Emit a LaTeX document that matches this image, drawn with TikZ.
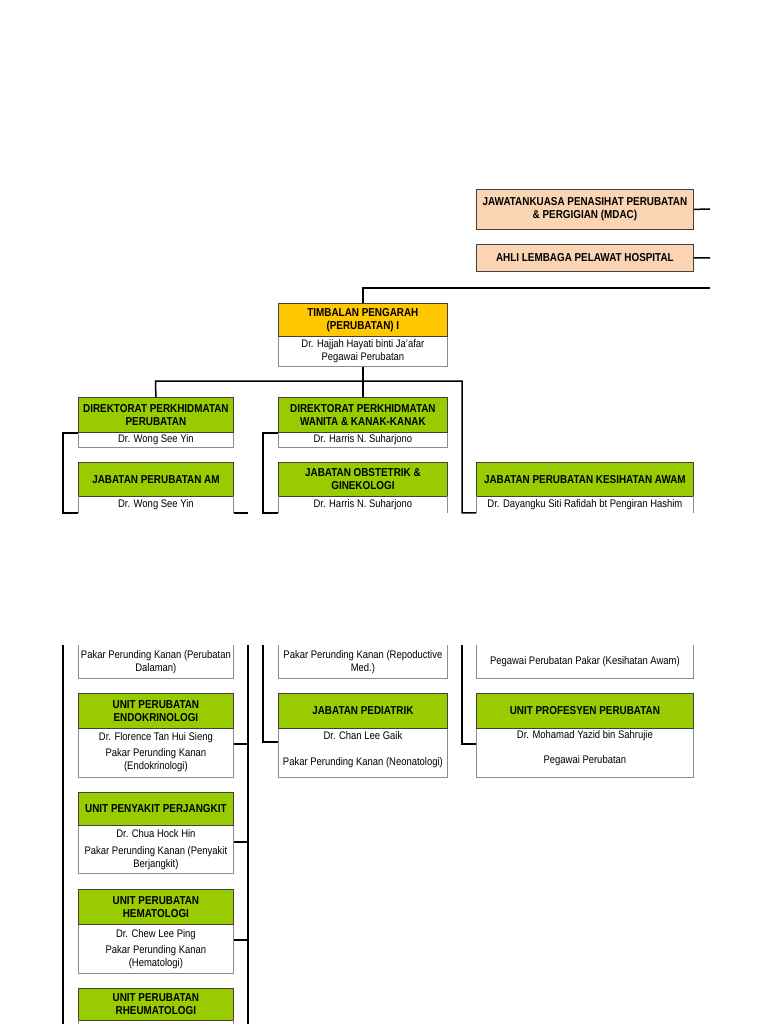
\documentclass[tikz,border=0pt]{standalone}
\usepackage{fontspec}
\setmainfont{Liberation Sans}[FakeStretch=0.86]
\usepackage{tikz}
\usetikzlibrary{calc}
\tikzset{
  head/.style={draw=black!75, line width=0.8pt, inner sep=0pt, anchor=north west, align=center, font=\fontsize{11.5}{13}\selectfont\bfseries},
  body/.style={draw=boxgray, fill=white, line width=0.8pt, inner sep=0pt, anchor=north west, align=center, font=\fontsize{11}{13}\selectfont},
  cut/.style={body, draw=none},
  side/.style={draw=boxgray, line width=0.8pt},
  link/.style={line width=1.5pt, black},
  colL/.style={minimum width=155pt},
  colM/.style={minimum width=169pt},
  colR/.style={minimum width=217pt},
}
\definecolor{peach}{HTML}{FBD4B4}
\definecolor{gold}{HTML}{FFC800}
\definecolor{lime}{HTML}{99CC00}
\definecolor{boxgray}{HTML}{8C8C8C}

\begin{document}
\begin{tikzpicture}[x=1pt, y=-1pt]
      \useasboundingbox[fill=white] (0,0) rectangle (768,1024);

      \node[head, fill=peach, colR, minimum height=40pt] at (476,189) (mdac) {JAWATANKUASA PENASIHAT PERUBATAN\\\& PERGIGIAN (MDAC)};
      \node[head, fill=peach, colR, minimum height=27pt] at (476,244) (ahli) {AHLI LEMBAGA PELAWAT HOSPITAL};

      \node[body, colM, minimum height=30pt] at (278,336) (timbB) {Dr. Hajjah Hayati binti Ja'afar\\Pegawai Perubatan};
      \node[head, fill=gold, colM, minimum height=33pt] at (278,303) (timbH) {TIMBALAN PENGARAH\\(PERUBATAN) I};

      \node[body, colL, minimum height=15pt] at (78,432) (dirperB) {Dr. Wong See Yin};
      \node[head, fill=lime, colL, minimum height=35pt] at (78,397) (dirperH) {DIREKTORAT PERKHIDMATAN\\PERUBATAN};
      \node[body, colM, minimum height=15pt] at (278,432) (dirwanB) {Dr. Harris N. Suharjono};
      \node[head, fill=lime, colM, minimum height=35pt] at (278,397) (dirwanH) {DIREKTORAT PERKHIDMATAN\\WANITA \& KANAK-KANAK};

      \node[cut, colL, minimum height=16pt] at (78,496) (jpamB) {Dr. Wong See Yin};
      \node[head, fill=lime, colL, minimum height=34pt] at (78,462) (jpamH) {JABATAN PERUBATAN AM};
      \node[cut, colM, minimum height=16pt] at (278,496) (jobsB) {Dr. Harris N. Suharjono};
      \node[head, fill=lime, colM, minimum height=34pt] at (278,462) (jobsH) {JABATAN OBSTETRIK \&\\GINEKOLOGI};
      \node[cut, colR, minimum height=16pt] at (476,496) (jkawB) {Dr. Dayangku Siti Rafidah bt Pengiran Hashim};
      \node[head, fill=lime, colR, minimum height=34pt] at (476,462) (jkawH) {JABATAN PERUBATAN KESIHATAN AWAM};

      \draw[side] (jpamB.north west) -- (jpamB.south west) (jpamB.north east) -- (jpamB.south east);
      \draw[side] (jobsB.north west) -- (jobsB.south west) (jobsB.north east) -- (jobsB.south east);
      \draw[side] (jkawB.north west) -- (jkawB.south west) (jkawB.north east) -- (jkawB.south east);

      \node[cut, colL, minimum height=33pt] at (78,645) (jpamC) {Pakar Perunding Kanan (Perubatan\\Dalaman)};
      \node[cut, colM, minimum height=33pt] at (278,645) (jobsC) {Pakar Perunding Kanan (Repoductive\\Med.)};
      \node[cut, colR, minimum height=33pt] at (476,645) (jkawC) {Pegawai Perubatan Pakar (Kesihatan Awam)};

      \draw[side] (jpamC.north west) |- (jpamC.south east) -- (jpamC.north east);
      \draw[side] (jobsC.north west) |- (jobsC.south east) -- (jobsC.north east);
      \draw[side] (jkawC.north west) |- (jkawC.south east) -- (jkawC.north east);

      \node[body, colL, minimum height=49pt] at (78,728) (endoB) {Dr. Florence Tan Hui Sieng\\[3pt]Pakar Perunding Kanan\\(Endokrinologi)\rule[-3pt]{0pt}{3pt}};
      \node[head, fill=lime, colL, minimum height=35pt] at (78,693) (endoH) {UNIT PERUBATAN\\ENDOKRINOLOGI};
      \node[body, colM, minimum height=49pt] at (278,728) (pediB) {Dr. Chan Lee Gaik\\[13pt]Pakar Perunding Kanan (Neonatologi)\rule[-8pt]{0pt}{8pt}};
      \node[head, fill=lime, colM, minimum height=35pt] at (278,693) (pediH) {JABATAN PEDIATRIK};
      \node[body, colR, minimum height=49pt] at (476,728) (uppB) {Dr. Mohamad Yazid bin Sahrujie\\[12pt]Pegawai Perubatan\rule[-11pt]{0pt}{11pt}};
      \node[head, fill=lime, colR, minimum height=35pt] at (476,693) (uppH) {UNIT PROFESYEN PERUBATAN};

      \node[body, colL, minimum height=48pt] at (78,825) (infeB) {Dr. Chua Hock Hin\\[4pt]Pakar Perunding Kanan (Penyakit\\Berjangkit)};
      \node[head, fill=lime, colL, minimum height=33pt] at (78,792) (infeH) {UNIT PENYAKIT PERJANGKIT};
      \node[body, colL, minimum height=49pt] at (78,924) (hemaB) {Dr. Chew Lee Ping\\[3pt]Pakar Perunding Kanan\\(Hematologi)};
      \node[head, fill=lime, colL, minimum height=35pt] at (78,889) (hemaH) {UNIT PERUBATAN\\HEMATOLOGI};
      \node[cut, colL, minimum height=4pt] at (78,1020) (rheuB) {};
      \node[head, fill=lime, colL, minimum height=32pt] at (78,988) (rheuH) {UNIT PERUBATAN\\RHEUMATOLOGI};
      \draw[side] (rheuB.north west) -- (rheuB.south west) (rheuB.north east) -- (rheuB.south east);

      \coordinate (mdacEnd) at (710,209);
      \coordinate (ahliEnd) at (710,258);
      \coordinate (topRail) at (710,288);
      \coordinate (busL) at (155.5,381);
      \coordinate (busR) at (462,381);
      \coordinate (railR) at (248,512);
      \coordinate (railLtop) at (63,645);
      \coordinate (railLbot) at (63,1024);
      \coordinate (railRtop) at (248,645);
      \coordinate (railRbot) at (248,1024);
      \coordinate (railMtop) at (263,645);
      \coordinate (railKtop) at (462,645);

      \draw[link] (mdac.east) -- (mdacEnd);
      \draw[link] (ahli.east) -- (ahliEnd);
      \draw[link] (topRail) -| (timbH.north);
      \draw[link] (timbB.south) -- (timbB.south |- busL);
      \draw[link] (dirperH.north) -- (busL) -- (busR) -- (busR |- jkawB.south) -- (jkawB.south west);
      \draw[link] (dirwanH.north) -- (dirwanH.north |- busL);
      \draw[link] (dirperH.south west) -- ++(-15,0) |- (jpamB.south west);
      \draw[link] (dirwanH.south west) -- ++(-15,0) |- (jobsB.south west);
      \draw[link] (jpamB.south east) -- (railR |- jpamB.south east);

      \draw[link] (railLtop) -- (railLbot);
      \draw[link] (railRtop) -- (railRbot);
      \draw[link] (railMtop) |- ($(pediH.south west)+(0,13)$);
      \draw[link] (railKtop) |- ($(uppH.south west)+(0,15)$);
      \draw[link] ($(endoH.south east)+(0,15)$) -- (railRtop |- {$(endoH.south east)+(0,15)$});
      \draw[link] ($(infeH.south east)+(0,16)$) -- (railRtop |- {$(infeH.south east)+(0,16)$});
      \draw[link] ($(hemaH.south east)+(0,15)$) -- (railRtop |- {$(hemaH.south east)+(0,15)$});
    \end{tikzpicture}
\end{document}
